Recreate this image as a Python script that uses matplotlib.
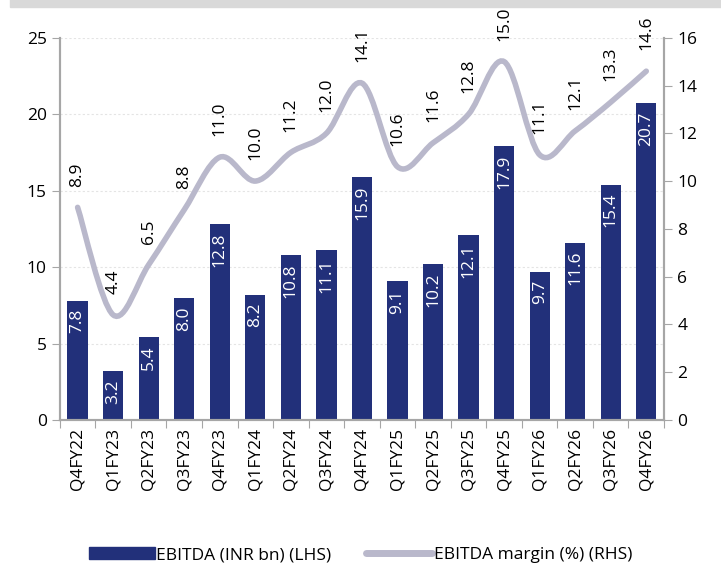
import matplotlib.pyplot as plt
import matplotlib.patches as mpatches
from matplotlib.path import Path
from matplotlib.lines import Line2D
import numpy as np

quarters = ['Q4FY22', 'Q1FY23', 'Q2FY23', 'Q3FY23', 'Q4FY23', 'Q1FY24', 'Q2FY24',
            'Q3FY24', 'Q4FY24', 'Q1FY25', 'Q2FY25', 'Q3FY25', 'Q4FY25', 'Q1FY26',
            'Q2FY26', 'Q3FY26', 'Q4FY26']
ebitda = [7.8, 3.2, 5.4, 8.0, 12.8, 8.2, 10.8, 11.1, 15.9, 9.1, 10.2, 12.1, 17.9,
          9.7, 11.6, 15.4, 20.7]
margin = [8.9, 4.4, 6.5, 8.8, 11.0, 10.0, 11.2, 12.0, 14.1, 10.6, 11.6, 12.8, 15.0,
          11.1, 12.1, 13.3, 14.6]

navy = '#22307a'
line_col = '#b9b8cb'
spine_col = '#a6a6a6'

plt.rcParams['font.family'] = ['Open Sans', 'DejaVu Sans']
plt.rcParams['font.size'] = 12.5

fig = plt.figure(figsize=(7.21, 5.63), dpi=100)
ax = fig.add_axes([0.083, 0.254, 0.838, 0.679])
ax2 = ax.twinx()

x = np.arange(len(quarters))

# grey header strip (cut-off title band)
fig.patches.append(mpatches.Rectangle((0.014, 0.988), 0.986, 0.02, transform=fig.transFigure,
                                      color='#d9d9d9', zorder=0))

ax.bar(x, ebitda, width=0.57, color=navy, zorder=2)
ax.set_ylim(0, 25)
ax.set_yticks([0, 5, 10, 15, 20, 25])
ax.set_xlim(-0.5, len(quarters) - 0.5)
ax.yaxis.grid(True, color='#e4e4e4', linestyle=(0, (2, 2)), linewidth=0.8)
ax.set_axisbelow(True)

for xi, v in zip(x, ebitda):
    ax.annotate('%.1f' % v, (xi, v), xytext=(0, -6), textcoords='offset points',
                ha='center', va='top', rotation=90, color='white', fontsize=12.5, zorder=3)

# x ticks: boundaries get tick marks, centres get labels
ax.set_xticks(np.arange(-0.5, len(quarters)), minor=False)
ax.set_xticklabels([])
ax.set_xticks(x, minor=True)
ax.set_xticklabels(quarters, minor=True, rotation=90)
ax.tick_params(axis='x', which='minor', length=0, pad=6)
ax.tick_params(axis='x', which='major', length=6, color=spine_col, direction='out')
ax.tick_params(axis='y', length=6, color=spine_col, direction='out')

# smooth margin line as bezier path
pts = np.column_stack([x, margin]).astype(float)
verts = [tuple(pts[0])]
codes = [Path.MOVETO]
for i in range(len(pts) - 1):
    p0 = pts[i - 1] if i > 0 else pts[i]
    p1 = pts[i]
    p2 = pts[i + 1]
    p3 = pts[i + 2] if i + 2 < len(pts) else pts[i + 1]
    c1 = p1 + (p2 - p0) / 6.0
    c2 = p2 - (p3 - p1) / 6.0
    verts += [tuple(c1), tuple(c2), tuple(p2)]
    codes += [Path.CURVE4] * 3
ax2.add_patch(mpatches.PathPatch(Path(verts, codes), facecolor='none', edgecolor=line_col,
                                 linewidth=4, capstyle='round', zorder=4))
ax2.set_ylim(0, 16)
ax2.set_yticks(range(0, 17, 2))
ax2.tick_params(axis='y', length=6, color=spine_col, direction='out')

for xi, v in zip(x, margin):
    ax2.annotate('%.1f' % v, (xi, v), xytext=(0, 15), textcoords='offset points',
                 ha='center', va='bottom', rotation=90, color='black', fontsize=12.5)

for a in (ax, ax2):
    a.spines['top'].set_visible(False)
    for s in ('left', 'right', 'bottom'):
        a.spines[s].set_color(spine_col)
        a.spines[s].set_linewidth(1.5)

handles = [mpatches.Patch(color=navy, label='EBITDA (INR bn) (LHS)'),
           Line2D([0], [0], color=line_col, lw=5, solid_capstyle='round',
                  label='EBITDA margin (%) (RHS)')]
fig.legend(handles=handles, loc='lower center', bbox_to_anchor=(0.5, -0.028), ncol=2,
           frameon=False, fontsize=12.5, handlelength=3.8, handleheight=0.7,
           columnspacing=2.0, handletextpad=0.1)

fig.savefig('out.png', dpi=100)
